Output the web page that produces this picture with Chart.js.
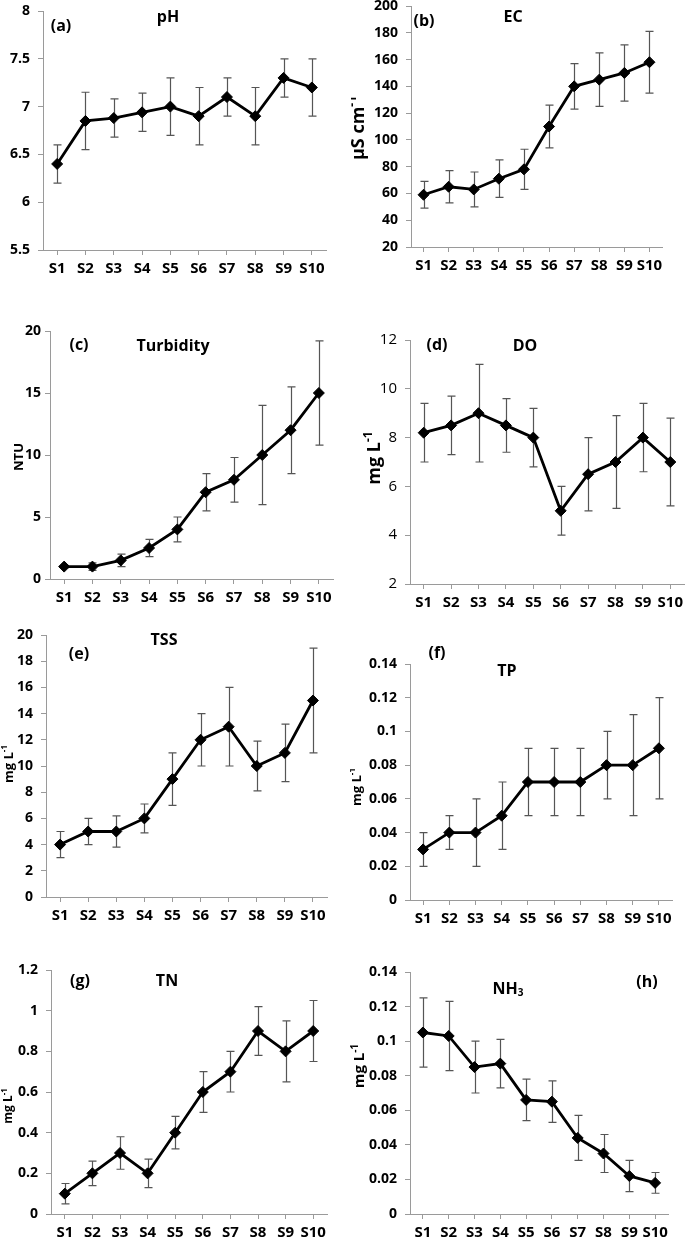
<!DOCTYPE html>
<html>
<head>
<meta charset="utf-8">
<script src="https://cdn.jsdelivr.net/npm/chart.js@4.4.1/dist/chart.umd.min.js"></script>
<style>
html,body{margin:0;padding:0;background:#fff;overflow:hidden;width:685px;height:1242px;}
#wrap{position:relative;width:685px;height:1242px;overflow:hidden;}
canvas{position:absolute;}
</style>
</head>
<body>
<div id="wrap"></div>
<script>
// ---------- DATA ----------
const sites = ['S1','S2','S3','S4','S5','S6','S7','S8','S9','S10'];

const phMean = [6.4, 6.85, 6.88, 6.94, 7.0, 6.9, 7.1, 6.9, 7.3, 7.2];
const phSd   = [0.2, 0.3, 0.2, 0.2, 0.3, 0.3, 0.2, 0.3, 0.2, 0.3];
const phTicks = [5.5, 6, 6.5, 7, 7.5, 8];

const ecMean = [59, 65, 63, 71, 78, 110, 140, 145, 150, 158];
const ecSd   = [10, 12, 13, 14, 15, 16, 17, 20, 21, 23];
const ecTicks = [20, 40, 60, 80, 100, 120, 140, 160, 180, 200];

const turbMean = [1, 1, 1.5, 2.5, 4, 7, 8, 10, 12, 15];
const turbSd   = [0.1, 0.3, 0.5, 0.7, 1, 1.5, 1.8, 4, 3.5, 4.2];
const turbTicks = [0, 5, 10, 15, 20];

const doMean = [8.2, 8.5, 9.0, 8.5, 8.0, 5.0, 6.5, 7.0, 8.0, 7.0];
const doSd   = [1.2, 1.2, 2.0, 1.1, 1.2, 1.0, 1.5, 1.9, 1.4, 1.8];
const doTicks = [2, 4, 6, 8, 10, 12];

const tssMean = [4, 5, 5, 6, 9, 12, 13, 10, 11, 15];
const tssSd   = [1, 1, 1.2, 1.1, 2, 2, 3, 1.9, 2.2, 4];
const tssTicks = [0, 2, 4, 6, 8, 10, 12, 14, 16, 18, 20];

const tpMean = [0.03, 0.04, 0.04, 0.05, 0.07, 0.07, 0.07, 0.08, 0.08, 0.09];
const tpSd   = [0.01, 0.01, 0.02, 0.02, 0.02, 0.02, 0.02, 0.02, 0.03, 0.03];
const tpTicks = [0, 0.02, 0.04, 0.06, 0.08, 0.1, 0.12, 0.14];

const tnMean = [0.1, 0.2, 0.3, 0.2, 0.4, 0.6, 0.7, 0.9, 0.8, 0.9];
const tnSd   = [0.05, 0.06, 0.08, 0.07, 0.08, 0.1, 0.1, 0.12, 0.15, 0.15];
const tnTicks = [0, 0.2, 0.4, 0.6, 0.8, 1, 1.2];

const nh3Mean = [0.105, 0.103, 0.085, 0.087, 0.066, 0.065, 0.044, 0.035, 0.022, 0.018];
const nh3Sd   = [0.02, 0.02, 0.015, 0.014, 0.012, 0.012, 0.013, 0.011, 0.009, 0.006];
const nh3Ticks = [0, 0.02, 0.04, 0.06, 0.08, 0.1, 0.12, 0.14];

// ---------- LAYOUT ----------
const FONT = '"Open Sans"';
const panels = [
  {mean: phMean, sd: phSd, ticks: phTicks, L:43, T:11, R:326, B:250,
   texts:[{segs:[{t:'(a)'}], x:61, y:26, s:16},{segs:[{t:'pH'}], x:168, y:17, s:16}]},
  {mean: ecMean, sd: ecSd, ticks: ecTicks, L:411, T:6, R:662, B:247,
   texts:[{segs:[{t:'(b)'}], x:424, y:21, s:16},{segs:[{t:'EC'}], x:513, y:17, s:16},
          {segs:[{t:'µS cm'},{t:'-1',sup:true}], x:359, y:128, s:18, rot:true}]},
  {mean: turbMean, sd: turbSd, ticks: turbTicks, L:50, T:331, R:333, B:579, yPad:4,
   texts:[{segs:[{t:'(c)'}], x:79, y:345, s:16},{segs:[{t:'Turbidity'}], x:173, y:346, s:16},
          {segs:[{t:'NTU'}], x:19, y:457, s:13, rot:true}]},
  {mean: doMean, sd: doSd, ticks: doTicks, L:410, T:340, R:684, B:584, regularY:true,
   texts:[{segs:[{t:'(d)'}], x:437, y:345, s:16},{segs:[{t:'DO'}], x:525, y:346, s:16},
          {segs:[{t:'mg L'},{t:'-1',sup:true}], x:375, y:458, s:18, rot:true}]},
  {mean: tssMean, sd: tssSd, ticks: tssTicks, L:46, T:635, R:327, B:897,
   texts:[{segs:[{t:'(e)'}], x:79, y:654, s:16},{segs:[{t:'TSS'}], x:164, y:640, s:16},
          {segs:[{t:'mg L'},{t:'-1',sup:true}], x:9, y:764, s:13, rot:true}]},
  {mean: tpMean, sd: tpSd, ticks: tpTicks, L:410, T:664, R:672, B:900,
   texts:[{segs:[{t:'(f)'}], x:437, y:653, s:16},{segs:[{t:'TP'}], x:507, y:671, s:16},
          {segs:[{t:'mg L'},{t:'-1',sup:true}], x:357, y:787, s:13, rot:true}]},
  {mean: tnMean, sd: tnSd, ticks: tnTicks, L:51, T:970, R:327, B:1214,
   texts:[{segs:[{t:'(g)'}], x:80, y:981, s:16},{segs:[{t:'TN'}], x:167, y:981, s:16},
          {segs:[{t:'mg L'},{t:'-1',sup:true}], x:9, y:1106, s:12, rot:true}]},
  {mean: nh3Mean, sd: nh3Sd, ticks: nh3Ticks, L:410, T:972, R:668, B:1214,
   texts:[{segs:[{t:'(h)'}], x:647, y:982, s:16},{segs:[{t:'NH'},{t:'3',sub:true}], x:508, y:989, s:16},
          {segs:[{t:'mg L'},{t:'-1',sup:true}], x:360, y:1066, s:15, rot:true}]}
];

// ---------- PLUGINS ----------
const errBars = {
  id: 'errBars',
  beforeDatasetsDraw(chart, args, opts) {
    const ctx = chart.ctx, y = chart.scales.y;
    const meta = chart.getDatasetMeta(0);
    const mean = chart.data.datasets[0].data;
    ctx.save();
    ctx.strokeStyle = '#555';
    ctx.lineWidth = 1.2;
    meta.data.forEach((pt, i) => {
      const x = Math.round(pt.x) + 0.5;
      const yt = y.getPixelForValue(mean[i] + opts.sd[i]);
      const yb = y.getPixelForValue(mean[i] - opts.sd[i]);
      ctx.beginPath();
      ctx.moveTo(x, yt); ctx.lineTo(x, yb);
      ctx.moveTo(x - 4, yt); ctx.lineTo(x + 4, yt);
      ctx.moveTo(x - 4, yb); ctx.lineTo(x + 4, yb);
      ctx.stroke();
    });
    ctx.restore();
  }
};

const annot = {
  id: 'annot',
  afterDraw(chart, args, opts) {
    const ctx = chart.ctx;
    opts.items.forEach(it => {
      const s = it.s;
      const parts = it.segs.map(g => {
        const fs = (g.sup || g.sub) ? Math.round(s * 0.65) : s;
        ctx.font = 'bold ' + fs + 'px ' + FONT;
        return {t: g.t, fs, w: ctx.measureText(g.t).width, dy: g.sup ? -s * 0.33 : (g.sub ? s * 0.28 : 0)};
      });
      const total = parts.reduce((a, p) => a + p.w, 0);
      ctx.save();
      ctx.translate(it.x - opts.x0, it.y - opts.y0);
      if (it.rot) ctx.rotate(-Math.PI / 2);
      ctx.fillStyle = '#000';
      ctx.textBaseline = 'middle';
      ctx.textAlign = 'left';
      let cx = -total / 2;
      parts.forEach(p => {
        ctx.font = 'bold ' + p.fs + 'px ' + FONT;
        ctx.fillText(p.t, cx, p.dy);
        cx += p.w;
      });
      ctx.restore();
    });
  }
};

// ---------- BUILD ----------
const wrap = document.getElementById('wrap');
const AXC = '#9a9a9a';
panels.forEach(p => {
  const YW = 60, TOP = 30, RP = 25, XH = 40;
  const x0 = p.L - YW, y0 = p.T - TOP;
  const w = p.R - x0 + RP, h = p.B - y0 + XH;
  const cv = document.createElement('canvas');
  cv.width = w; cv.height = h;
  cv.style.left = x0 + 'px'; cv.style.top = y0 + 'px';
  cv.style.width = w + 'px'; cv.style.height = h + 'px';
  wrap.appendChild(cv);
  new Chart(cv.getContext('2d'), {
    type: 'line',
    data: {
      labels: sites,
      datasets: [{
        data: p.mean, borderColor: '#000', borderWidth: 2.8, tension: 0, fill: false,
        pointStyle: 'rectRot', pointRadius: 5.5, pointBackgroundColor: '#000', pointBorderColor: '#000', pointBorderWidth: 1
      }]
    },
    options: {
      responsive: false, animation: false, devicePixelRatio: 1,
      layout: {padding: {left: 0, top: TOP, right: RP, bottom: 0}},
      plugins: {
        legend: {display: false}, tooltip: {enabled: false}, title: {display: false},
        errBars: {sd: p.sd},
        annot: {items: p.texts, x0, y0}
      },
      scales: {
        x: {
          offset: true,
          grid: {drawOnChartArea: false, drawTicks: true, tickLength: 5, color: AXC, offset: false},
          border: {display: true, color: AXC, width: 1},
          ticks: {color: '#000', font: {family: FONT, weight: 'bold', size: 15}, padding: 5, maxRotation: 0, autoSkip: false},
          afterFit: s => { s.height = XH; }
        },
        y: {
          min: p.ticks[0], max: p.ticks[p.ticks.length - 1],
          grid: {drawOnChartArea: false, drawTicks: true, tickLength: 5, color: AXC},
          border: {display: true, color: AXC, width: 1},
          ticks: {color: '#000', font: {family: FONT, weight: p.regularY ? 'normal' : 'bold', size: p.regularY ? 15 : 14},
                  padding: p.yPad !== undefined ? p.yPad : 8,
                  callback: v => String(+Number(v).toFixed(4))},
          afterBuildTicks: s => { s.ticks = p.ticks.map(v => ({value: v})); },
          afterFit: s => { s.width = YW; }
        }
      }
    },
    plugins: [errBars, annot]
  });
});
</script>
</body>
</html>
